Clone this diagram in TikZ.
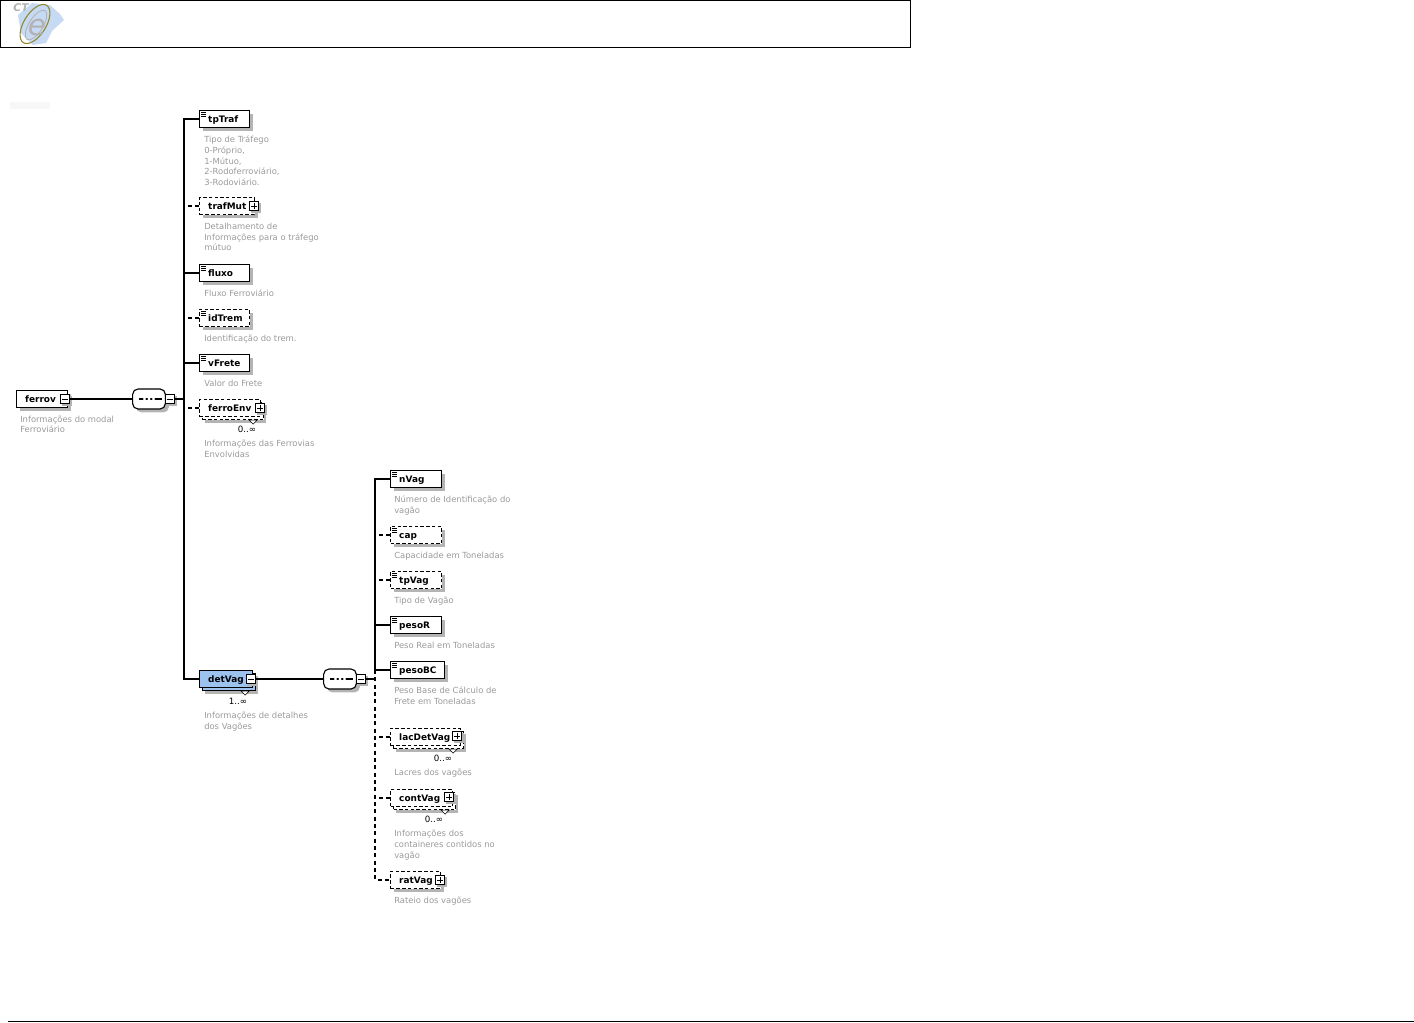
\documentclass[tikz,border=0pt]{standalone}
\usepackage{fontspec}
\setmainfont{DejaVu Sans}
\usetikzlibrary{shadows}

\definecolor{notegray}{HTML}{9A9A9A}
\definecolor{shadowgray}{HTML}{B4B4B4}
\definecolor{detblue}{HTML}{9CC2EE}
\definecolor{mapblue}{HTML}{A9C6EC}

\tikzset{
  elembox/.style={draw=black, line width=0.85pt, fill=white, anchor=west, align=left,
    inner xsep=6.5pt, inner ysep=0pt, minimum height=13pt, text width=#1*0.75pt-13pt,
    text height=6.6pt, text depth=0.8pt,
    font=\fontsize{6.7}{8}\selectfont\bfseries,
    general shadow={shadow xshift=2.6pt, shadow yshift=-2.6pt, fill=shadowgray}},
  elembox/.default=50,
  optbox/.style={elembox=#1, dash pattern=on 2.6pt off 1.7pt},
  optbox/.default=50,
  multibox/.style={
    general shadow={shadow xshift=4.4pt, shadow yshift=-4.4pt, fill=shadowgray},
    copy shadow={shadow xshift=2.2pt, shadow yshift=-2.2pt, draw=black, fill=#1}},
  multibox/.default=white,
  notelabel/.style={anchor=north west, align=left, inner sep=0pt, text=notegray, yshift=-0.75pt,
    font=\fontsize{6.3}{7.95}\selectfont},
  occurs/.style={inner sep=0pt, font=\fontsize{6.5}{7}\selectfont},
  togglebox/.style={draw=black, line width=0.7pt, fill=white, inner sep=0pt, minimum size=7.2pt,
    general shadow={shadow xshift=1.4pt, shadow yshift=-1.4pt, fill=shadowgray}},
  minusbox/.style={togglebox, path picture={
    \draw[line width=0.6pt] ([xshift=1.5pt]path picture bounding box.west) -- ([xshift=-1.5pt]path picture bounding box.east);}},
  plusbox/.style={togglebox, path picture={
    \draw[line width=0.6pt] ([xshift=1.5pt]path picture bounding box.west) -- ([xshift=-1.5pt]path picture bounding box.east)
      ([yshift=1.5pt]path picture bounding box.south) -- ([yshift=-1.5pt]path picture bounding box.north);}},
  seqbox/.style={draw=black, line width=0.85pt, fill=white, rounded corners=4pt,
    inner sep=0pt, minimum width=24.5pt, minimum height=15pt,
    general shadow={shadow xshift=2.6pt, shadow yshift=-2.6pt, fill=shadowgray},
    path picture={
      \draw[line width=0.85pt] ([xshift=5pt]path picture bounding box.west) -- ([xshift=-2.5pt]path picture bounding box.east);
      \foreach \dotx in {-3.4,0,3.4}
        \fill ([xshift=\dotx pt]path picture bounding box.center) circle (1.25pt);}},
  conn/.style={line width=0.8pt},
  optconn/.style={conn, dash pattern=on 3pt off 2.5pt},
}

\begin{document}
\begin{tikzpicture}[x=0.75pt, y=-0.75pt]
  \useasboundingbox (0,0) rectangle (1414,1022);

  % page header
  \draw[line width=0.75pt] (0.5,0.5) rectangle (910.5,47);
  \draw[line width=0.75pt] (8,1021) -- (1414,1021);
  \fill[black!3] (10,102) rectangle (50,109);

  % logo
  \fill[mapblue!65] (32,3) -- (50,5) -- (60,14) -- (64,20) -- (52,31) -- (46,43) -- (33,45) -- (21,33) -- (18,15) -- cycle;
  \draw[olive!70!gray, line width=0.8pt, rotate around={58:(35,24)}] (35,24) ellipse (22 and 11);
  \draw[gray!60, line width=0.6pt, rotate around={58:(36,25)}] (36,25) ellipse (17 and 7);
  \node[inner sep=0pt, text=black!30, font=\fontsize{22}{22}\selectfont\itshape] (logoe) at (37,27.5) {e};
  \node[inner sep=0pt, text=black!30, font=\fontsize{8}{8}\selectfont\bfseries\itshape] (logoct) at (21,8) {CT};

  % root
  \node[elembox=51] (ferrov) at (16,399) {ferrov};
  \node[minusbox] (ferrovtog) at (65,399) {};
  \node[notelabel] (ferrovnote) at (20,414.5) {Informações do modal\\Ferroviário};

  \node[seqbox] (seqA) at (149,399) {};
  \node[minusbox] (seqAtog) at (170,399) {};

  % children of ferrov
  \node[elembox=50] (tpTraf) at (199,119) {tpTraf};
  \node[notelabel] at (204,135) {Tipo de Tráfego\\0-Próprio,\\1-Mútuo,\\2-Rodoferroviário,\\3-Rodoviário.};

  \node[optbox=55] (trafMut) at (199,206) {trafMut};
  \node[plusbox] (trafMuttog) at (254,206) {};
  \node[notelabel] at (204,222) {Detalhamento de\\Informações para o tráfego\\mútuo};

  \node[elembox=50] (fluxo) at (199,273) {fluxo};
  \node[notelabel] at (204,288.5) {Fluxo Ferroviário};

  \node[optbox=50] (idTrem) at (199,318) {idTrem};
  \node[notelabel] at (204,333.5) {Identificação do trem.};

  \node[elembox=50] (vFrete) at (199,363) {vFrete};
  \node[notelabel] at (204,378.5) {Valor do Frete};

  \node[optbox=61, multibox] (ferroEnv) at (199,408) {ferroEnv};
  \node[plusbox] (ferroEnvtog) at (260,408) {};
  \node[occurs] at (247,429) {0..∞};
  \node[notelabel] at (204,439) {Informações das Ferrovias\\Envolvidas};

  \node[elembox=53, fill=detblue, multibox=detblue] (detVag) at (199,679) {detVag};
  \node[minusbox] (detVagtog) at (251,679) {};
  \node[occurs] at (238,701) {1..∞};
  \node[notelabel] at (204,711) {Informações de detalhes\\dos Vagões};

  \node[seqbox] (seqB) at (340,679) {};
  \node[minusbox] (seqBtog) at (361,679) {};

  % children of detVag
  \node[elembox=51] (nVag) at (390,479) {nVag};
  \node[notelabel] at (394,494.5) {Número de Identificação do\\vagão};

  \node[optbox=51] (cap) at (390,535) {cap};
  \node[notelabel] at (394,550.5) {Capacidade em Toneladas};

  \node[optbox=51] (tpVag) at (390,580) {tpVag};
  \node[notelabel] at (394,595.5) {Tipo de Vagão};

  \node[elembox=51] (pesoR) at (390,625) {pesoR};
  \node[notelabel] at (394,640.5) {Peso Real em Toneladas};

  \node[elembox=54] (pesoBC) at (390,670) {pesoBC};
  \node[notelabel] at (394,686) {Peso Base de Cálculo de\\Frete em Toneladas};

  \node[optbox=70, multibox] (lacDetVag) at (390,737) {lacDetVag};
  \node[plusbox] (lacDetVagtog) at (457,736) {};
  \node[occurs] at (443,758) {0..∞};
  \node[notelabel] at (394,768) {Lacres dos vagões};

  \node[optbox=62, multibox] (contVag) at (390,798) {contVag};
  \node[plusbox] (contVagtog) at (449,797) {};
  \node[occurs] at (434,819) {0..∞};
  \node[notelabel] at (394,829) {Informações dos\\containeres contidos no\\vagão};

  \node[optbox=50] (ratVag) at (390,880) {ratVag};
  \node[plusbox] (ratVagtog) at (440,880) {};
  \node[notelabel] at (394,895.5) {Rateio dos vagões};

  % type marks and repeat marks
  \foreach \elem in {tpTraf,fluxo,idTrem,vFrete,nVag,cap,tpVag,pesoR,pesoBC}
    \foreach \marky in {1.7,3.2,4.7}
      \draw[line width=0.45pt] ([xshift=1.5pt,yshift=-\marky pt]\elem.north west) -- ++(4pt,0);
  \foreach \elem in {detVag,ferroEnv,lacDetVag,contVag}
    \draw[fill=white, line width=0.4pt] ([xshift=-9pt,yshift=-2.2pt]\elem.south east) -- ++(6pt,0) -- ++(-3pt,-3pt) -- cycle;

  % connectors
  \coordinate (spineA) at (184,119);
  \coordinate (spineB) at (375,479);
  \draw[conn] (ferrovtog) -- (seqA);
  \draw[conn] (seqAtog) -- (seqAtog -| spineA);
  \draw[conn] (tpTraf.west) -- (spineA) -- (spineA |- detVag.west) -- (detVag.west);
  \foreach \elem in {fluxo,vFrete}
    \draw[conn] (\elem.west) -- (\elem.west -| spineA);
  \foreach \elem in {trafMut,idTrem,ferroEnv}
    \draw[optconn] (\elem.west) -- (\elem.west -| spineA);

  \draw[conn] (detVagtog) -- (seqB);
  \draw[conn] (seqBtog) -- (seqBtog -| spineB);
  \draw[conn] (nVag.west) -- (spineB) -- (spineB |- pesoBC.west) -- (pesoBC.west);
  \draw[conn] (pesoR.west) -- (pesoR.west -| spineB);
  \foreach \elem in {cap,tpVag,lacDetVag,contVag}
    \draw[optconn] (\elem.west) -- (\elem.west -| spineB);
  \draw[optconn] (spineB |- pesoBC.west) -- (spineB |- ratVag.west) -- (ratVag.west);
\end{tikzpicture}
\end{document}
